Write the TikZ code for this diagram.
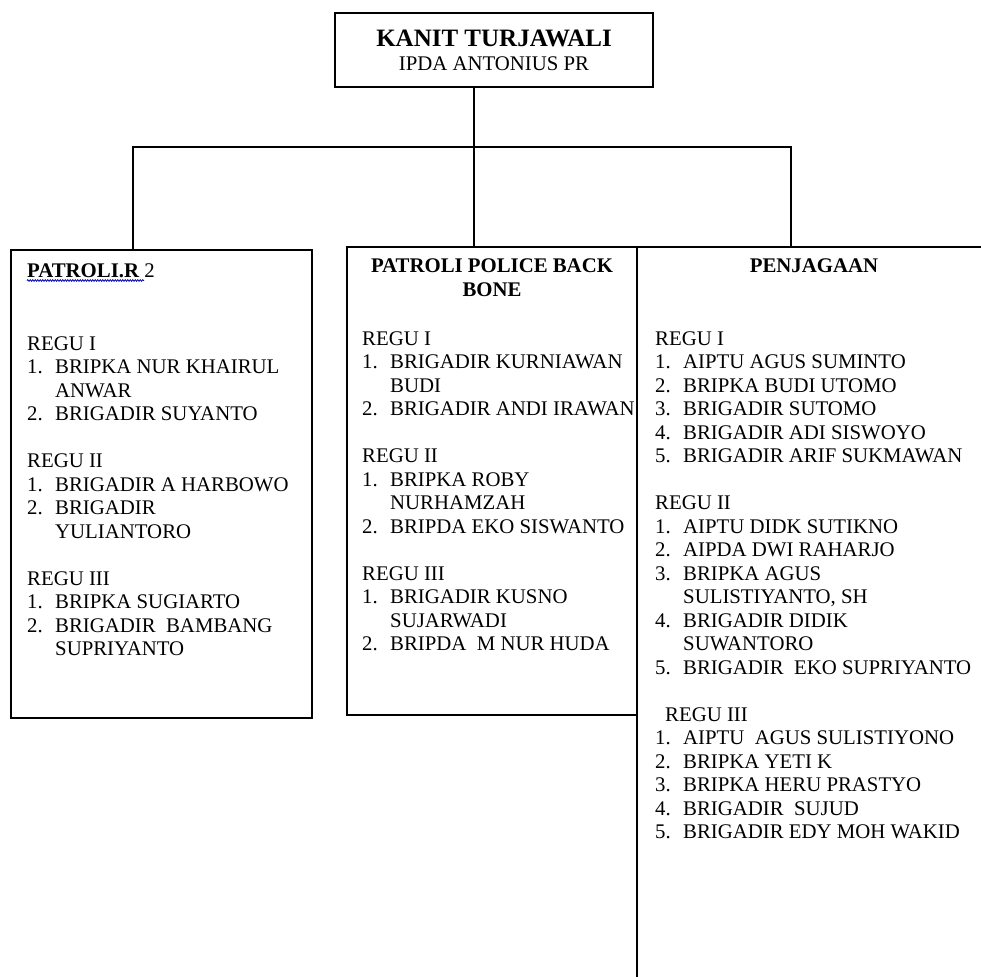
\documentclass[tikz,border=0pt]{standalone}
\usepackage{fontspec}
\setmainfont{Liberation Serif}
\usetikzlibrary{decorations.pathmorphing}
\newcommand\nr[1]{\makebox[28pt][l]{#1}}
\begin{document}
\begin{tikzpicture}[x=1pt, y=-1pt,
  box/.style={rectangle, draw, line width=1.8pt, inner sep=0pt},
  txt/.style={inner sep=0pt, font=\fontsize{20.8}{23.5}\selectfont},
  list/.style={txt, anchor=north west, align=left},
  head/.style={txt, font=\fontsize{20.8}{24}\selectfont\bfseries}]
\useasboundingbox (0,0) rectangle (981,976);
\fill[white] (0,0) rectangle (981,976);
\clip (0,0) rectangle (981,976);
\node[box, fill=white, minimum width=318pt, minimum height=74pt, align=center, font=\fontsize{20.8}{24}\selectfont] (kanit) at (494,50) {{\fontsize{25}{24}\selectfont\bfseries KANIT TURJAWALI}\\IPDA ANTONIUS PR};
\node[box, minimum width=301pt, minimum height=468pt] (patrol) at (161.5,484) {};
\node[box, minimum width=290pt, minimum height=468pt] (back) at (492,481) {};
\coordinate (hl) at (133,147);
\coordinate (hm) at (474,147);
\coordinate (hr) at (791,147);
\node[head, anchor=base west] (patroltitle) at (27,277) {PATROLI.R \mdseries 2};
\draw[blue!70!black, line width=0.8pt, decorate, decoration={snake, amplitude=0.8pt, segment length=2.5pt}] ([yshift=-3.5pt]patroltitle.base west) -- ++(117,0);
\node[list] (patrollist) at (27,336.2) {REGU I\\
\nr{1.}BRIPKA NUR KHAIRUL\\
\nr{}ANWAR\\
\nr{2.}BRIGADIR SUYANTO\\[23.5pt]
REGU II\\
\nr{1.}BRIGADIR A HARBOWO\\
\nr{2.}BRIGADIR\\
\nr{}YULIANTORO\\[23.5pt]
REGU III\\
\nr{1.}BRIPKA SUGIARTO\\
\nr{2.}BRIGADIR\ \ BAMBANG\\
\nr{}SUPRIYANTO};
\node[head, anchor=north, align=center] (backtitle) at (492,258.2) {PATROLI POLICE BACK\\BONE};
\node[list] (backlist) at (362,331.2) {REGU I\\
\nr{1.}BRIGADIR KURNIAWAN\\
\nr{}BUDI\\
\nr{2.}BRIGADIR ANDI IRAWAN\\[23.5pt]
REGU II\\
\nr{1.}BRIPKA ROBY\\
\nr{}NURHAMZAH\\
\nr{2.}BRIPDA EKO SISWANTO\\[23.5pt]
REGU III\\
\nr{1.}BRIGADIR KUSNO\\
\nr{}SUJARWADI\\
\nr{2.}BRIPDA\ \ M NUR HUDA};
\node[box, fill=white, minimum width=354pt, minimum height=753pt] (jaga) at (814,623.5) {};
\node[head, anchor=base] (jagatitle) at (814,272) {PENJAGAAN};
\node[list] (jagalist) at (655,331.2) {REGU I\\
\nr{1.}AIPTU AGUS SUMINTO\\
\nr{2.}BRIPKA BUDI UTOMO\\
\nr{3.}BRIGADIR SUTOMO\\
\nr{4.}BRIGADIR ADI SISWOYO\\
\nr{5.}BRIGADIR ARIF SUKMAWAN\\[23.5pt]
REGU II\\
\nr{1.}AIPTU DIDK SUTIKNO\\
\nr{2.}AIPDA DWI RAHARJO\\
\nr{3.}BRIPKA AGUS\\
\nr{}SULISTIYANTO, SH\\
\nr{4.}BRIGADIR DIDIK\\
\nr{}SUWANTORO\\
\nr{5.}BRIGADIR\ \ EKO SUPRIYANTO\\[23.5pt]
\hspace*{10pt}REGU III\\
\nr{1.}AIPTU\ \ AGUS SULISTIYONO\\
\nr{2.}BRIPKA YETI K\\
\nr{3.}BRIPKA HERU PRASTYO\\
\nr{4.}BRIGADIR\ \ SUJUD\\
\nr{5.}BRIGADIR EDY MOH WAKID};
\draw[line width=1.8pt] (kanit.south -| hm) -- (hm |- back.north);
\draw[line width=1.8pt] (hl |- patrol.north) -- (hl) -- (hr) -- (hr |- jaga.north);
\end{tikzpicture}
\end{document}
